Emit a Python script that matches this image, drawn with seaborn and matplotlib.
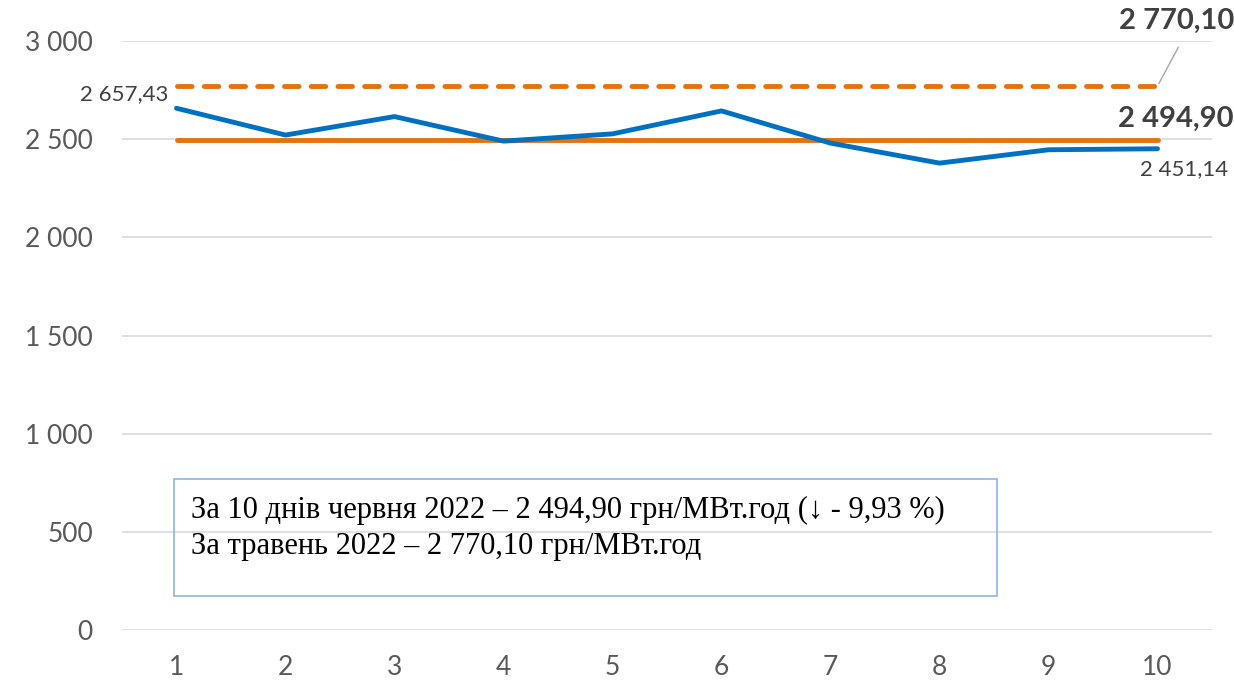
import matplotlib
matplotlib.use("Agg")
import matplotlib.pyplot as plt
import matplotlib.ticker as mticker
import pandas as pd
import seaborn as sns

# daily prices, 1-10 June 2022 (UAH/MWh)
days = [1, 2, 3, 4, 5, 6, 7, 8, 9, 10]
prices = [2657.43, 2521, 2615, 2490, 2527, 2644, 2480, 2378, 2446, 2451.14]
june_avg = 2494.90
may_avg = 2770.10

BLUE = "#0070C0"
ORANGE = "#E8710A"
GRID = "#D9D9D9"
TICK = "#595959"
LABEL = "#404040"

sns.set_theme(style="white")
plt.rcParams["font.family"] = ["Lato", "DejaVu Sans"]

df = pd.DataFrame({"day": days, "price": prices})

fig = plt.figure(figsize=(12.34, 6.9), dpi=100)
ax = fig.add_axes([122 / 1234, 60 / 690, 1090 / 1234, 589 / 690])

ax.hlines(may_avg, days[0], days[-1], color=ORANGE, lw=3.5,
          linestyles=(0, (3.0, 2.5)), zorder=3)
ax.hlines(june_avg, days[0], days[-1], color=ORANGE, lw=3.5, zorder=3)
for coll in ax.collections:
    coll.set_capstyle("round")
sns.lineplot(data=df, x="day", y="price", color=BLUE, lw=3.5, ax=ax,
             zorder=4, solid_capstyle="round", solid_joinstyle="round")

ax.set_xlim(0.5, 10.5)
ax.set_ylim(0, 3000)
ax.yaxis.set_major_locator(mticker.MultipleLocator(500))
ax.yaxis.set_major_formatter(mticker.FuncFormatter(lambda v, p: f"{int(v):,}".replace(",", " ")))
ax.set_xticks(days)
ax.grid(axis="y", color=GRID, lw=1.2)
ax.set_axisbelow(True)
for s in ax.spines.values():
    s.set_visible(False)
ax.tick_params(axis="y", length=0, pad=21, labelsize=19, labelcolor=TICK)
ax.tick_params(axis="x", length=0, pad=18, labelsize=19, labelcolor=TICK)
ax.set_xlabel("")
ax.set_ylabel("")

def fmt(v):
    return f"{v:,.2f}".replace(",", " ").replace(".", ",")

# data labels
ax.annotate(fmt(prices[0]), (days[0], prices[0]), xytext=(-6, 10),
            textcoords="offset points", ha="right", va="center",
            fontsize=16, color=LABEL)
ax.annotate(fmt(prices[-1]), (days[-1], prices[-1]), xytext=(19, -15),
            textcoords="offset points", ha="center", va="center",
            fontsize=16, color=LABEL)
ax.annotate(fmt(june_avg), (days[-1], june_avg), xytext=(55, 15),
            textcoords="offset points", ha="right", va="center",
            fontsize=21, fontweight="bold", color=LABEL)
ax.annotate(fmt(may_avg), (days[-1], may_avg), xytext=(55, 47),
            textcoords="offset points", ha="right", va="center",
            fontsize=21, fontweight="bold", color=LABEL)
ax.annotate("", (days[-1], may_avg), xytext=(15, 28), textcoords="offset points",
            arrowprops=dict(arrowstyle="-", color="#A6A6A6", lw=1,
                            shrinkA=0, shrinkB=2))

# note box
box = plt.Rectangle((174 / 1234, 1 - 596 / 690), 823 / 1234, 117 / 690,
                    transform=fig.transFigure, facecolor="none",
                    edgecolor="#8EB4E3", lw=1.2, zorder=5)
fig.patches.append(box)
note = ("За 10 днів червня 2022 – 2 494,90 грн/МВт.год (↓ - 9,93 %)\n"
        "За травень 2022 – 2 770,10 грн/МВт.год")
fig.text(191 / 1234, 1 - 496 / 690, note, ha="left", va="top",
         fontsize=22, color="black", linespacing=1.3,
         family=["Liberation Serif", "DejaVu Serif"])

fig.savefig("out.png", dpi=100)
